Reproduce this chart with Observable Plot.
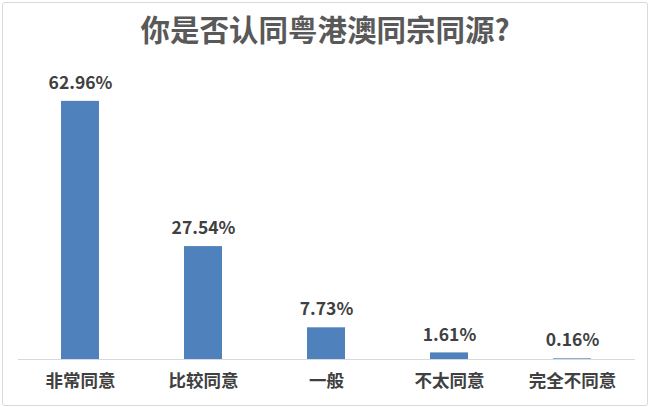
<!DOCTYPE html>
<html>
<head>
<meta charset="utf-8">
<script src="https://cdn.jsdelivr.net/npm/d3@7"></script>
<script src="https://cdn.jsdelivr.net/npm/@observablehq/plot@0.6"></script>
<style>
  html, body { margin: 0; padding: 0; background: #fff; }
  #wrap { position: relative; width: 650px; height: 407px; overflow: hidden; background: #fff;
          font-family: "Noto Sans CJK SC", "Noto Sans", sans-serif; }
  #frame { position: absolute; left: 2px; top: 2px; right: 2px; bottom: 1px;
           border: 1px solid #D9D9D9; border-radius: 3px; pointer-events: none; }
  #title { height: 58px; line-height: 56px; text-align: center; font-size: 29.5px; font-weight: 700;
           color: #595959; }
  svg { display: block; }
</style>
</head>
<body>
<div id="wrap">
  <div id="title">你是否认同粤港澳同宗同源?</div>
  <div id="chart"></div>
  <div id="frame"></div>
</div>
<script>
const categories = ["非常同意", "比较同意", "一般", "不太同意", "完全不同意"];
const values = [62.96, 27.54, 7.73, 1.61, 0.16];
const valueLabels = ["62.96%", "27.54%", "7.73%", "1.61%", "0.16%"];

const data = categories.map((c, i) => ({category: c, value: values[i], label: valueLabels[i]}));

const chart = Plot.plot({
  width: 650,
  height: 349,
  marginLeft: 18,
  marginRight: 15,
  marginTop: 14,
  marginBottom: 48,
  style: {fontFamily: '"Noto Sans CJK SC", "Noto Sans", sans-serif', background: "#fff"},
  x: {domain: categories, paddingInner: 0.69, paddingOuter: 0.345, label: null},
  y: {domain: [0, 70], axis: null},
  marks: [
    Plot.barY(data, {x: "category", y: "value", fill: "#4F81BD"}),
    Plot.ruleY([0], {stroke: "#D9D9D9", strokeWidth: 1.2}),
    Plot.text(data, {x: "category", y: "value", text: "label", dy: -18,
      fontSize: 17.5, fontWeight: 700, fill: "#404040"}),
    Plot.axisX({tickSize: 0, tickPadding: 15, fontSize: 17.5, fontWeight: 700, color: "#404040", label: null})
  ]
});
document.getElementById("chart").appendChild(chart);
</script>
</body>
</html>
